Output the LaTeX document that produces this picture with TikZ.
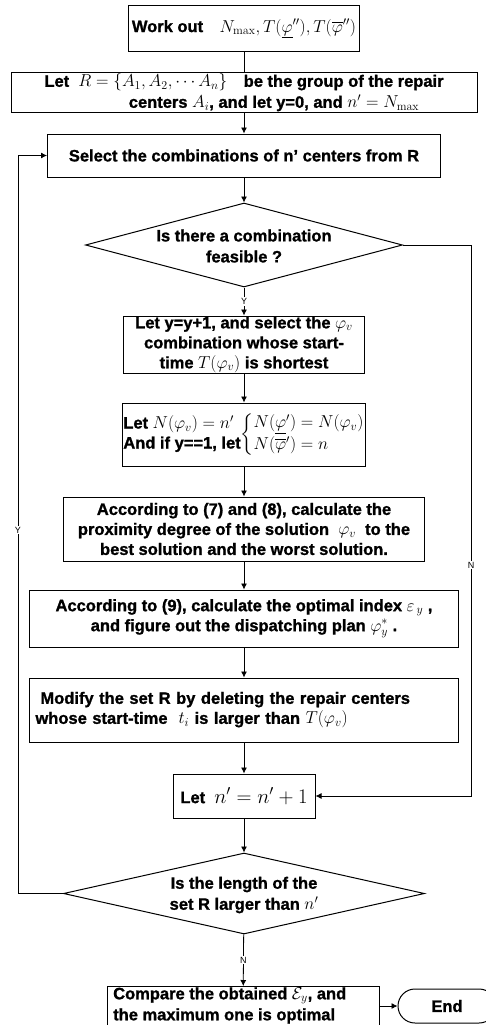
\documentclass[tikz,border=0pt]{standalone}
\usepackage{amsmath}
\usepackage[no-math]{fontspec}
\setmainfont{Liberation Sans}[BoldFeatures={FakeBold=1.2}]
\usetikzlibrary{shapes.geometric,arrows.meta}
\begin{document}
\begin{tikzpicture}[x=1pt,y=-1pt,
  box/.style={draw, line width=1pt, inner xsep=3pt, inner ysep=0pt, font=\bfseries\fontsize{16.5}{20}\selectfont, align=center},
  dia/.style={draw, diamond, line width=1pt, inner sep=0pt},
  txt/.style={font=\bfseries\fontsize{16.5}{21}\selectfont, align=center, inner sep=0pt},
  lab/.style={font=\fontsize{9}{9}\selectfont, fill=white, inner sep=1pt},
  conn/.style={line width=0.8pt},
  arr/.style={conn, -{Latex[length=6pt,width=6pt]}},
]
\useasboundingbox (0,0) rectangle (486,1025);
\begin{scope}
\clip (0,0) rectangle (486,1025);
\node[box, minimum width=230pt, minimum height=46pt] (b1) at (244,29) {Work out\quad $N_{\max},T(\underline{\varphi}''),T(\overline{\varphi}'')$};
\node[box, minimum width=466pt, minimum height=40pt, font=\bfseries\fontsize{16.5}{21}\selectfont] (b2) at (244,92.5) {Let \ $R=\{A_1,A_2,\cdots A_n\}$\quad be the group of the repair\\ \hspace*{60pt}centers $A_i$, and let y=0, and $n'=N_{\max}$};
\node[box, minimum width=393pt, minimum height=43pt] (sel) at (244,155.5) {Select the combinations of n’ centers from R};
\node[dia, minimum width=317pt, minimum height=84pt] (d1) at (244,245) {};
\node[txt] (d1t) at (244,246) {Is there a combination\\feasible ?};
\node[box, minimum width=241pt, minimum height=57pt] (b3) at (244,344.5) {Let y=y+1, and select the $\varphi_v$\\combination whose start-\\time $T(\varphi_v)$ is shortest};
\node[box, minimum width=241pt, minimum height=63pt, inner xsep=1pt] (b4) at (244,434.5) {\begin{tabular}{@{}l@{}}Let $N(\varphi_v)=n'$\\And if y==1, let\end{tabular}$\left\{\begin{array}{@{}l@{}}N(\underline{\varphi}')=N(\varphi_v)\\[2pt]N(\overline{\varphi}')=n\end{array}\right.$};
\node[box, minimum width=361pt, minimum height=64pt] (b5) at (244,529) {According to (7) and (8), calculate the\\proximity degree of the solution \ $\varphi_v$ \ to the\\best solution and the worst solution.};
\node[box, minimum width=429pt, minimum height=57pt] (b6) at (244,618.5) {According to (9), calculate the optimal index $\varepsilon_{\,y}$ ,\\and figure out the dispatching plan $\varphi^{*}_{y}$ .};
\node[box, minimum width=429pt, minimum height=64pt, inner xsep=6pt, text width=417pt, align=left] (b7) at (244,710) {\hspace*{5pt}Modify the set R by deleting the repair centers\\whose start-time \ $t_i$ is larger than $T(\varphi_v)$};
\node[box, minimum width=142pt, minimum height=44pt] (b8) at (244,796) {Let \ {\fontsize{21}{21}\selectfont $n'=n'+1$}};
\node[dia, minimum width=361pt, minimum height=81pt] (d2) at (244,893.5) {};
\node[txt] (d2t) at (244,895) {Is the length of the\\set R larger than $n'$};
\node[draw, line width=1pt, minimum width=272pt, minimum height=60pt, anchor=north] (b9) at (243,986) {};
\node[txt, align=left, anchor=west] (b9t) at (113,1005.5) {Compare the obtained $\mathcal{E}_y$, and\\the maximum one is optimal};
\node[draw, line width=1pt, rounded corners=17pt, minimum width=98pt, minimum height=34pt, font=\bfseries\fontsize{16.5}{20}\selectfont] (fin) at (447,1006) {End};

\draw[conn] (b1) -- (b2);
\draw[arr] (b2) -- (sel);
\draw[arr] (sel) -- (d1);
\draw[arr] (d1) -- node[lab] (ly1) {Y} (b3);
\draw[arr] (b3) -- (b4);
\draw[arr] (b4) -- (b5);
\draw[arr] (b5) -- (b6);
\draw[arr] (b6) -- (b7);
\draw[arr] (b7) -- (b8);
\draw[arr] (b8) -- (d2);
\draw[arr] (d2) -- node[lab] (ln2) {N} (b9);
\draw[arr] (b9.east |- fin.west) -- (fin.west);
\coordinate (rc) at (471,245);
\draw[arr] (d1.east) -- (rc) |- (b8.east);
\node[lab] (ln1) at (471,565) {N};
\coordinate (lc) at (18,893.5);
\draw[arr] (d2.west) -- (lc) |- (sel.west);
\node[lab] (ly2) at (18,530) {Y};
\end{scope}
\end{tikzpicture}
\end{document}
